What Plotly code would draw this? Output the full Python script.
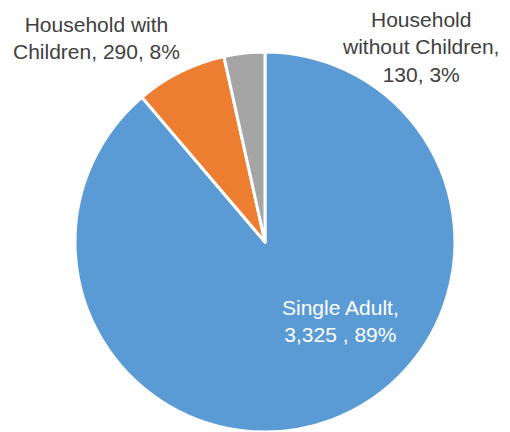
import plotly.graph_objects as go

# Households served, by household type
categories = ["Single Adult", "Household with Children", "Household without Children"]
values = [3325, 290, 130]
colors = ["#5B9BD5", "#ED7D31", "#A5A5A5"]

total = sum(values)
pcts = [round(v / total * 100) for v in values]

fig = go.Figure(
    go.Pie(
        labels=categories,
        values=values,
        sort=False,
        direction="clockwise",
        rotation=0,
        marker=dict(colors=colors, line=dict(color="white", width=3)),
        textinfo="none",
        hoverinfo="label+value+percent",
        showlegend=False,
        domain=dict(x=[75 / 510, 455 / 510], y=[0, 1 - 52 / 432]),
    )
)

font = dict(family="Liberation Sans, Arial, sans-serif", size=21, color="#404040")

# Label texts: name, count and share of each slice
texts = [
    f"Single Adult,<br>{values[0]:,} , {pcts[0]}%",
    f"Household with<br>Children, {values[1]:,}, {pcts[1]}%",
    f"Household<br>without Children,<br>{values[2]:,}, {pcts[2]}%",
]
# label anchor points (paper px from top-left)
anchors = [(340, 321), (96, 38), (420, 47)]
label_colors = ["white", "#404040", "#404040"]

for t, (ax, ay), c in zip(texts, anchors, label_colors):
    fig.add_annotation(
        x=ax / 510, y=1 - ay / 432, xref="paper", yref="paper",
        text=t, showarrow=False, align="center",
        xanchor="center", yanchor="middle",
        font=dict(font, color=c),
    )

fig.update_layout(
    width=510, height=432,
    margin=dict(l=0, r=0, t=0, b=0),
    paper_bgcolor="white", plot_bgcolor="white",
)

fig.write_html("out.html")
